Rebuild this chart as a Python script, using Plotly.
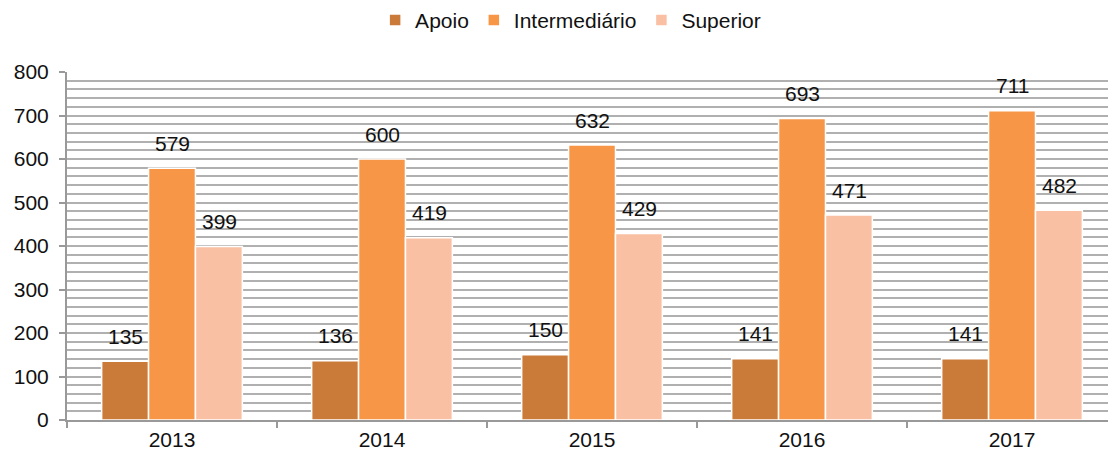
import plotly.graph_objects as go

years = ["2013", "2014", "2015", "2016", "2017"]
apoio = [135, 136, 150, 141, 141]
intermediario = [579, 600, 632, 693, 711]
superior = [399, 419, 429, 471, 482]

series = [
    ("Apoio", apoio, "#CB7B39"),
    ("Intermediário", intermediario, "#F79646"),
    ("Superior", superior, "#F9C0A4"),
]

FONT = "Liberation Sans, Arial, sans-serif"
GRID = "#b0b0b0"
AXIS = "#999999"

fig = go.Figure()
for name, vals, color in series:
    fig.add_trace(go.Bar(
        name=name, x=years, y=vals,
        marker=dict(color=color, line=dict(color="white", width=1.5)),
    ))

# value labels above each bar, shifted to the bar's slot within its group
offsets = [-47, 0, 47]
annotations = []
for (name, vals, _), dx in zip(series, offsets):
    for i, v in enumerate(vals):
        annotations.append(dict(
            x=i, y=v, xref="x", yref="y", text=str(v), showarrow=False,
            xshift=dx, yshift=25, yanchor="middle",
            font=dict(family=FONT, size=21, color="#111111"),
        ))

fig.update_layout(
    width=1108, height=452,
    margin=dict(l=67, r=0, t=72, b=32),
    paper_bgcolor="white", plot_bgcolor="white",
    barmode="group", bargap=0.33, bargroupgap=0,
    font=dict(family=FONT, size=21, color="#111111"),
    annotations=annotations,
    legend=dict(
        orientation="h", xref="container", yref="container",
        x=0.515, y=0.955, xanchor="center", yanchor="middle",
        font=dict(family=FONT, size=21), itemwidth=30, tracegroupgap=0,
    ),
    xaxis=dict(
        type="category", range=[-0.5, 4.457], showgrid=False,
        showline=True, linecolor=AXIS, linewidth=2,
        ticks="outside", tickson="boundaries", ticklen=6, tickcolor=AXIS, tickwidth=2,
        tickfont=dict(family=FONT, size=21),
    ),
    yaxis=dict(
        range=[0, 800], dtick=100, showgrid=True, gridcolor=GRID, gridwidth=1.6,
        showline=True, linecolor=AXIS, linewidth=2,
        ticks="outside", ticklen=6, tickcolor=AXIS, tickwidth=2,
        tickfont=dict(family=FONT, size=21), zeroline=False,
        ticklabelstandoff=6,
        minor=dict(dtick=20, showgrid=True, gridcolor=GRID, gridwidth=1.6),
    ),
)

fig.write_html("out.html")
